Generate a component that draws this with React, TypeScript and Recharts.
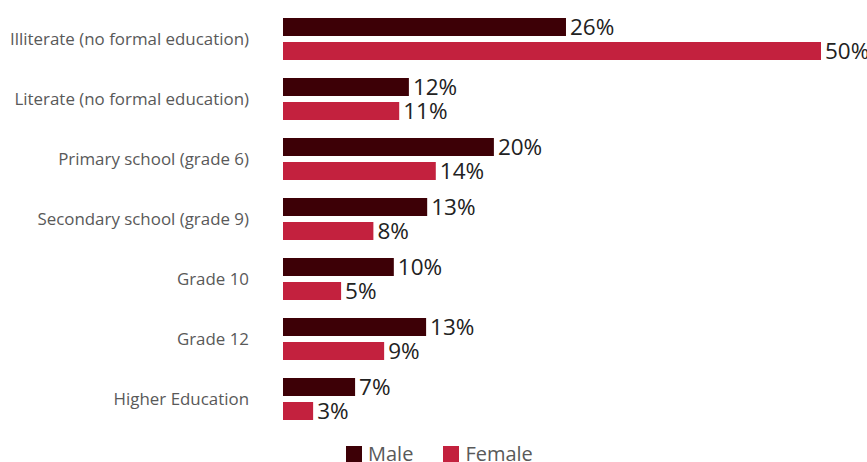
import { BarChart, Bar, XAxis, YAxis, Legend, LabelList } from 'recharts';

const categories = [
  'Illiterate (no formal education)',
  'Literate (no formal education)',
  'Primary school (grade 6)',
  'Secondary school (grade 9)',
  'Grade 10',
  'Grade 12',
  'Higher Education',
];
const maleValues = [26.3, 11.7, 19.6, 13.4, 10.3, 13.3, 6.7];
const femaleValues = [50, 10.8, 14.2, 8.4, 5.4, 9.4, 2.8];

const MALE = '#3d0006';
const FEMALE = '#c3213e';
const FONT = '"Open Sans", sans-serif';

const data = categories.map((name, i) => ({ name, male: maleValues[i], female: femaleValues[i] }));

const fmt = (v: any) => `${Math.round(Number(v))}%`;

const LegendContent = () => (
  <div style={{ display: 'flex', alignItems: 'center', gap: 30, paddingLeft: 346, fontFamily: FONT, fontSize: 20, lineHeight: '24px', color: '#595959' }}>
    {[['Male', MALE], ['Female', FEMALE]].map(([label, color]) => (
      <span key={label} style={{ display: 'flex', alignItems: 'center', gap: 6 }}>
        <span style={{ width: 16, height: 16, background: color, display: 'inline-block' }} />
        {label}
      </span>
    ))}
  </div>
);

export default function App() {
  return (
    <div style={{ position: 'absolute', left: 0, top: 0, width: 867, height: 462, background: '#fff', overflow: 'hidden' }}>
      <BarChart
        width={867}
        height={462}
        data={data}
        layout="vertical"
        margin={{ top: 9, right: 46, left: 0, bottom: 0 }}
        barSize={18}
        barGap={6}
      >
        <XAxis type="number" domain={[0, 50]} hide />
        <YAxis
          type="category"
          dataKey="name"
          width={283}
          axisLine={false}
          tickLine={false}
          tickSize={0}
          tickMargin={34}
          tick={{ fontFamily: FONT, fontSize: 16.9, fill: '#595959' }}
        />
        <Legend verticalAlign="bottom" height={33} content={<LegendContent />} wrapperStyle={{ bottom: -13 }} />
        <Bar dataKey="male" fill={MALE} isAnimationActive={false}>
          <LabelList dataKey="male" position="right" offset={4} formatter={fmt} style={{ fontFamily: FONT, fontSize: 22.5, fill: '#222' }} />
        </Bar>
        <Bar dataKey="female" fill={FEMALE} isAnimationActive={false}>
          <LabelList dataKey="female" position="right" offset={4} formatter={fmt} style={{ fontFamily: FONT, fontSize: 22.5, fill: '#222' }} />
        </Bar>
      </BarChart>
    </div>
  );
}
